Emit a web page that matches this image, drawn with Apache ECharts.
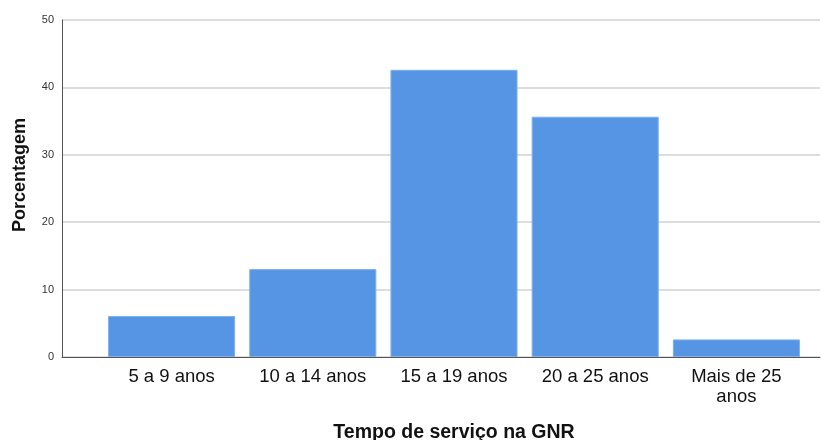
<!DOCTYPE html>
<html><head><meta charset="utf-8">
<script src="https://cdn.jsdelivr.net/npm/echarts@6/dist/echarts.min.js"></script>
<style>html,body{margin:0;padding:0;background:#fff}#c{width:822px;height:440px}</style>
</head><body><div id="c"></div>
<script>
const categories = ['5 a 9 anos', '10 a 14 anos', '15 a 19 anos', '20 a 25 anos', 'Mais de 25\nanos'];
const percentages = [6.09, 13.04, 42.61, 35.65, 2.61];
const yTicks = [0, 10, 20, 30, 40, 50];
const xTitle = 'Tempo de serviço na GNR';
const yTitle = 'Porcentagem';

const font = '"Liberation Sans", Arial, sans-serif';
const chart = echarts.init(document.getElementById('c'), null, {renderer: 'canvas'});
chart.setOption({
  animation: false,
  backgroundColor: '#ffffff',
  grid: [
    {left: 62, right: 2, top: 20, bottom: 83, outerBoundsMode: 'none', containLabel: false},
    {left: 101, right: 15, top: 20, bottom: 83, outerBoundsMode: 'none', containLabel: false}
  ],
  xAxis: [
    {gridIndex: 0, type: 'value', min: 0, max: 1, show: true,
     axisLine: {show: true, lineStyle: {color: '#555', width: 1}},
     axisTick: {show: false}, axisLabel: {show: false}, splitLine: {show: false}},
    {gridIndex: 1, type: 'category', data: categories,
     axisLine: {show: false}, axisTick: {show: false},
     axisLabel: {color: '#111', fontFamily: font, fontSize: 18.5, margin: 10, lineHeight: 20, interval: 0},
     name: xTitle, nameLocation: 'middle', nameGap: 66,
     nameTextStyle: {fontFamily: font, fontSize: 19.5, fontWeight: 'bold', color: '#111'}}
  ],
  yAxis: [
    {gridIndex: 0, type: 'value', min: yTicks[0], max: yTicks[yTicks.length - 1], interval: 10,
     axisLine: {show: true, lineStyle: {color: '#555', width: 1}},
     axisTick: {show: false},
     axisLabel: {color: '#333', fontFamily: font, fontSize: 11, margin: 8},
     splitLine: {show: true, lineStyle: {color: '#d2d2d2', width: 1.5}}},
    {gridIndex: 1, type: 'value', min: 0, max: 50, show: false, splitLine: {show: false}}
  ],
  graphic: [{
    type: 'text', x: 20, y: 175, rotation: Math.PI / 2,
    style: {text: yTitle, font: 'bold 18px ' + font, fill: '#111', align: 'center', verticalAlign: 'middle'}
  }],
  series: [{
    type: 'bar', xAxisIndex: 1, yAxisIndex: 1, data: percentages,
    barCategoryGap: '10%',
    itemStyle: {color: '#5595e3', borderColor: '#7eb0ee', borderWidth: 1}
  }]
});
</script></body></html>
